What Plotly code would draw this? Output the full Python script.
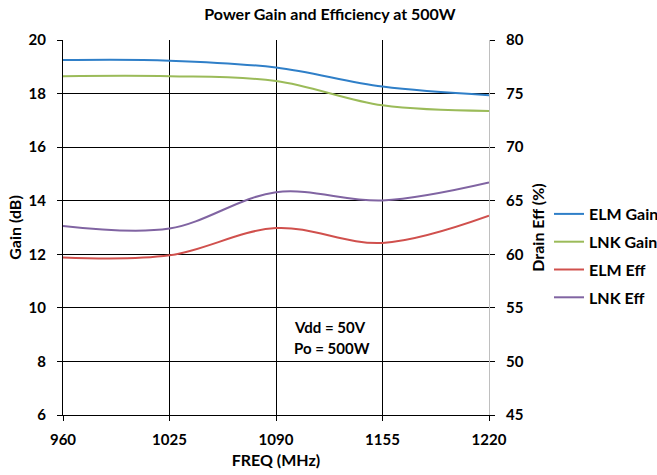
import plotly.graph_objects as go

freq = [960, 1025, 1090, 1155, 1220]
elm_gain = [19.25, 19.23, 18.97, 18.26, 17.94]
lnk_gain = [18.65, 18.65, 18.47, 17.56, 17.35]
elm_eff = [59.7, 59.9, 62.45, 61.06, 63.6]
lnk_eff = [62.65, 62.4, 65.8, 65.03, 66.7]

FONT = "Lato"
fig = go.Figure()
fig.add_trace(go.Scatter(x=freq, y=elm_gain, name="<b>ELM Gain</b>", mode="lines", legendgroup="a",
                         line=dict(color="#2f7fc8", width=2, shape="spline", smoothing=1)))
fig.add_trace(go.Scatter(x=freq, y=lnk_gain, name="<b>LNK Gain</b>", mode="lines", legendgroup="b",
                         line=dict(color="#9bbb59", width=2, shape="spline", smoothing=1)))
fig.add_trace(go.Scatter(x=freq, y=elm_eff, name="<b>ELM Eff</b>", mode="lines", yaxis="y2", legendgroup="c",
                         line=dict(color="#d0504d", width=2, shape="spline", smoothing=1)))
fig.add_trace(go.Scatter(x=freq, y=lnk_eff, name="<b>LNK Eff</b>", mode="lines", yaxis="y2", legendgroup="d",
                         line=dict(color="#8064a2", width=2, shape="spline", smoothing=1)))

gain_ticks = [6, 8, 10, 12, 14, 16, 18, 20]
eff_ticks = [45, 50, 55, 60, 65, 70, 75, 80]

fig.update_layout(
    width=657, height=475,
    margin=dict(l=63, r=168, t=40, b=60, autoexpand=False),
    paper_bgcolor="white", plot_bgcolor="white",
    font=dict(family=FONT, size=15, color="black"),
    title=dict(text="<b>Power Gain and Efficiency at 500W</b>", x=330/657, xref="container",
               xanchor="center", y=1 - 14/475, yref="container", yanchor="middle",
               font=dict(size=16, family=FONT)),
    xaxis=dict(range=[960, 1220], tickvals=freq, ticktext=[f"<b>{v}</b>" for v in freq],
               showgrid=True, gridcolor="black", gridwidth=1,
               showline=True, linecolor="black", linewidth=1,
               ticks="outside", ticklen=5, tickcolor="black", ticklabelstandoff=6,
               zeroline=False, automargin=False, tickfont=dict(size=15),
               title=dict(text="<b>FREQ (MHz)</b>", font=dict(size=16), standoff=7)),
    yaxis=dict(range=[6, 20], tickvals=gain_ticks,
               ticktext=[f"<b>{v}</b>" for v in gain_ticks],
               showgrid=True, gridcolor="black", gridwidth=1,
               showline=True, linecolor="black", linewidth=1,
               ticks="outside", ticklen=5, tickcolor="black", ticklabelstandoff=8,
               zeroline=False, automargin=False, tickfont=dict(size=15),
               title=dict(text="<b>Gain (dB)</b>", font=dict(size=16), standoff=2)),
    yaxis2=dict(range=[45, 80], tickvals=eff_ticks,
                ticktext=[f"<b>{v}</b>" for v in eff_ticks],
                overlaying="y", side="right", showgrid=False,
                showline=True, linecolor="#bfbfbf", linewidth=1,
                ticks="outside", ticklen=5, tickcolor="black", ticklabelstandoff=8,
                zeroline=False, automargin=False, tickfont=dict(size=15),
                title=dict(text="<b>Drain Eff (%)</b>", font=dict(size=16), standoff=10)),
    legend=dict(x=549/657, xref="container", xanchor="left", y=1 - 256/475, yref="container",
                yanchor="middle", font=dict(size=16, family=FONT), itemwidth=30,
                traceorder="grouped", tracegroupgap=4,
                bgcolor="rgba(0,0,0,0)"),
    showlegend=True,
)
fig.add_annotation(x=1100, y=9.3, xref="x", yref="y", text="<b>Vdd = 50V</b>",
                   showarrow=False, xanchor="left", yanchor="middle", font=dict(size=15))
fig.add_annotation(x=1100, y=8.5, xref="x", yref="y", text="<b>Po = 500W</b>",
                   showarrow=False, xanchor="left", yanchor="middle", font=dict(size=15))

fig.write_html("out.html", config={"displayModeBar": False},
               post_script="document.body.style.margin='0';document.body.style.padding='0';")
